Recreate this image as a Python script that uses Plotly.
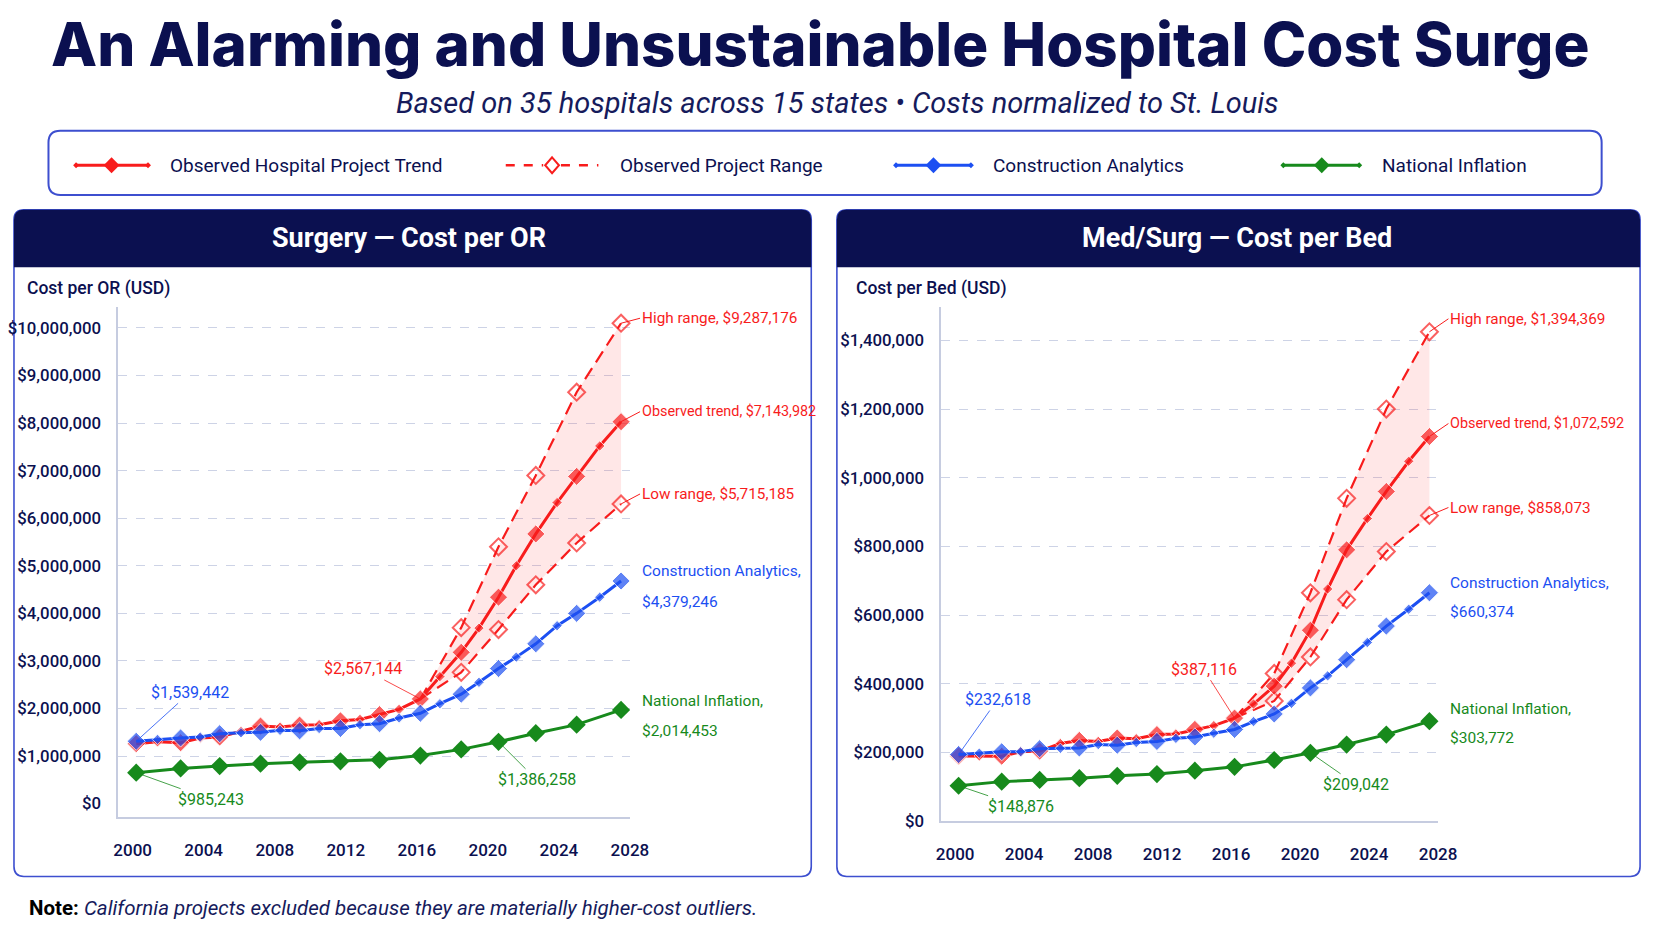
"""Hospital cost surge: cost per OR and cost per bed, observed vs. benchmarks."""
import plotly.graph_objects as go

W, H = 1672, 941          # target picture size
PAD_X, PAD_Y = 11, 8      # page body margin around the figure
FIG_W, FIG_H = W - 16, H - 16

# x positions (years); even indices carry the large markers
YEARS = [2000.2, 2001.4, 2002.7, 2003.8, 2004.9, 2006.1, 2007.2, 2008.3, 2009.4, 2010.5,
         2011.7, 2012.8, 2013.9, 2015.0, 2016.2, 2017.3, 2018.5, 2019.5, 2020.6, 2021.6,
         2022.7, 2023.9, 2025.0, 2026.3, 2027.5]
MAIN_YEARS = [2000.2, 2002.7, 2004.9, 2007.2, 2009.4, 2011.7, 2013.9, 2016.2, 2018.5,
              2020.6, 2022.7, 2025.0, 2027.5]
RANGE_YEARS = [2016.2, 2018.5, 2020.6, 2022.7, 2025.0, 2027.5]
YEAR_TICKS = [2000, 2004, 2008, 2012, 2016, 2020, 2024, 2028]

# Surgery - cost per OR (USD)
OR_TREND = [1260000, 1300000, 1280000, 1380000, 1400000, 1520000, 1630000, 1610000,
            1650000, 1660000, 1740000, 1770000, 1870000, 1980000, 2200000, 2670000,
            3180000, 3690000, 4340000, 5000000, 5670000, 6330000, 6880000, 7520000, 8030000]
OR_ANALYTICS = [1310000, 1350000, 1380000, 1400000, 1470000, 1490000, 1500000, 1540000,
                1530000, 1580000, 1580000, 1660000, 1680000, 1800000, 1900000, 2100000,
                2300000, 2550000, 2840000, 3080000, 3360000, 3740000, 4000000, 4340000, 4680000]
OR_INFLATION = [650000, 740000, 790000, 840000, 870000, 890000, 920000, 1010000,
                1140000, 1300000, 1480000, 1660000, 1970000]
OR_HIGH = [2200000, 3700000, 5400000, 6900000, 8650000, 10100000]
OR_LOW = [2200000, 2760000, 3660000, 4600000, 5480000, 6300000]
OR_TICKS = [0, 1000000, 2000000, 3000000, 4000000, 5000000, 6000000, 7000000,
            8000000, 9000000, 10000000]
OR_END_LABELS = ["High range, $9,287,176", "Observed trend, $7,143,982", "Low range, $5,715,185"]
OR_SIDE_LABELS = ["Construction Analytics,", "$4,379,246", "National Inflation,", "$2,014,453"]
OR_POINT_LABELS = ["$1,539,442", "$985,243", "$2,567,144", "$1,386,258"]

# Med/Surg - cost per bed (USD)
BED_TREND = [190000, 190000, 189000, 202000, 204000, 226000, 235000, 232000, 242000,
             240000, 252000, 254000, 267000, 278000, 300000, 341000, 393000, 460000,
             556000, 676000, 790000, 881000, 960000, 1048000, 1120000]
BED_ANALYTICS = [194000, 198000, 202000, 202000, 211000, 212000, 213000, 223000, 221000,
                 229000, 232000, 241000, 245000, 256000, 267000, 290000, 312000, 343000,
                 388000, 423000, 470000, 520000, 568000, 617000, 665000]
BED_INFLATION = [103000, 115000, 120000, 125000, 132000, 137000, 147000, 158000,
                 178000, 199000, 223000, 252000, 291000]
BED_HIGH = [300000, 430000, 665000, 940000, 1200000, 1425000]
BED_LOW = [300000, 350000, 478000, 645000, 785000, 890000]
BED_TICKS = [0, 200000, 400000, 600000, 800000, 1000000, 1200000, 1400000]
BED_END_LABELS = ["High range, $1,394,369", "Observed trend, $1,072,592", "Low range, $858,073"]
BED_SIDE_LABELS = ["Construction Analytics,", "$660,374", "National Inflation,", "$303,772"]
BED_POINT_LABELS = ["$232,618", "$148,876", "$387,116", "$209,042"]

LEGEND_NAMES = ["Observed Hospital Project Trend", "Observed Project Range",
                "Construction Analytics", "National Inflation"]

NAVY = "#0b1050"
RED = "#f81c1c"
BLUE = "#1c4ff2"
GREEN = "#178a1c"
FILL = "rgba(255, 70, 70, 0.13)"
GRID = "#cdd3e6"
AXIS = "#c6cce0"
BORDER = "#3d4fcf"
SANS = "Roboto, 'Noto Sans', sans-serif"


def px(x):
    return (x - PAD_X) / FIG_W


def py(y):
    return 1 - (y - PAD_Y) / FIG_H


def pt(x, y):
    return f"{px(x):.5f},{py(y):.5f}"


def rounded_path(x0, y0, x1, y1, r, round_bottom=True):
    """Rounded rectangle path in paper coords (input in pixels, y down)."""
    p = f"M {pt(x0 + r, y0)} L {pt(x1 - r, y0)} Q {pt(x1, y0)} {pt(x1, y0 + r)} "
    if round_bottom:
        p += (f"L {pt(x1, y1 - r)} Q {pt(x1, y1)} {pt(x1 - r, y1)} "
              f"L {pt(x0 + r, y1)} Q {pt(x0, y1)} {pt(x0, y1 - r)} ")
    else:
        p += f"L {pt(x1, y1)} L {pt(x0, y1)} "
    p += f"L {pt(x0, y0 + r)} Q {pt(x0, y0)} {pt(x0 + r, y0)} Z"
    return p


def diamond_path(cx, cy, rx, ry):
    return (f"M {pt(cx, cy - ry)} L {pt(cx + rx, cy)} L {pt(cx, cy + ry)} "
            f"L {pt(cx - rx, cy)} Z")


def text(x, y, s, size, color=NAVY, anchor="left", family=SANS, weight=None):
    font = dict(family=family, size=size, color=color)
    if weight:
        font["weight"] = weight
    return dict(x=px(x), y=py(y), xref="paper", yref="paper", text=s, showarrow=False,
                xanchor=anchor, yanchor="middle", font=font)


def add_panel(fig, n, trend, analytics, inflation, high, low, end_labels, side_labels,
              point_labels, layout):
    xa, ya = ("x", "y") if n == 1 else ("x2", "y2")
    small = [14 if i % 2 == 0 else 8 for i in range(len(YEARS))]
    common = dict(xaxis=xa, yaxis=ya, cliponaxis=False, hoverinfo="x+y", showlegend=False)
    range_marker = dict(symbol="diamond-open", size=[0, 13, 13, 13, 13, 13], color=RED,
                        line=dict(width=2, color=RED))

    # range band: low first, high fills down to it
    fig.add_trace(go.Scatter(
        x=RANGE_YEARS, y=low, mode="lines+markers",
        line=dict(color=RED, width=2.2, dash="13px,7px"), marker=range_marker, **common))
    fig.add_trace(go.Scatter(
        x=RANGE_YEARS, y=high, mode="lines+markers", fill="tonexty", fillcolor=FILL,
        line=dict(color=RED, width=2.2, dash="13px,7px"), marker=range_marker, **common))
    fig.add_trace(go.Scatter(
        x=MAIN_YEARS, y=inflation, mode="lines+markers",
        line=dict(color=GREEN, width=3), marker=dict(symbol="diamond", size=14, color=GREEN),
        **common))
    fig.add_trace(go.Scatter(
        x=YEARS, y=trend, mode="lines+markers",
        line=dict(color=RED, width=3), marker=dict(symbol="diamond", size=small, color=RED),
        **common))
    fig.add_trace(go.Scatter(
        x=YEARS, y=analytics, mode="lines+markers",
        line=dict(color=BLUE, width=3), marker=dict(symbol="diamond", size=small, color=BLUE),
        **common))

    anns = []
    # labels at the right end of the curves (the trend label is set a touch tighter)
    for val, label, ay, size in zip([high[-1], trend[-1], low[-1]], end_labels,
                                    layout["end_ay"], [15.3, 14.4, 15.3]):
        anns.append(dict(x=RANGE_YEARS[-1], y=val, xref=xa, yref=ya, text=label,
                         showarrow=True, arrowhead=0, arrowwidth=1, arrowcolor=RED,
                         ax=19, ay=ay, xanchor="left",
                         font=dict(family=SANS, size=size, color=RED)))
    for val, pair, shifts, color in [(analytics[-1], side_labels[:2], layout["ca_shift"], BLUE),
                                     (inflation[-1], side_labels[2:], layout["ni_shift"], GREEN)]:
        for label, dy in zip(pair, shifts):
            anns.append(dict(x=YEARS[-1], y=val, xref=xa, yref=ya, text=label,
                             showarrow=False, xanchor="left", yanchor="middle",
                             xshift=19, yshift=-dy,
                             font=dict(family=SANS, size=15.5, color=color)))
    # callouts on individual points
    points = [(YEARS[0], analytics[0], BLUE), (MAIN_YEARS[0], inflation[0], GREEN),
              (YEARS[14], trend[14], RED), (MAIN_YEARS[9], inflation[9], GREEN)]
    for (x, y, color), label, (ax, ay) in zip(points, point_labels, layout["callouts"]):
        anns.append(dict(x=x, y=y, xref=xa, yref=ya, text=label, showarrow=True,
                         arrowhead=0, arrowwidth=0.8, arrowcolor=color, ax=ax, ay=ay,
                         font=dict(family=SANS, size=16, color=color)))
    return anns


fig = go.Figure()

annotations = []
annotations += add_panel(fig, 1, OR_TREND, OR_ANALYTICS, OR_INFLATION, OR_HIGH, OR_LOW,
                         OR_END_LABELS, OR_SIDE_LABELS, OR_POINT_LABELS,
                         dict(end_ay=[-5, -10, -10], ca_shift=[-10, 21], ni_shift=[-9, 21],
                              callouts=[(54, -49), (75, 27), (-57, -30), (38, 38)]))
annotations += add_panel(fig, 2, BED_TREND, BED_ANALYTICS, BED_INFLATION, BED_HIGH, BED_LOW,
                         BED_END_LABELS, BED_SIDE_LABELS, BED_POINT_LABELS,
                         dict(end_ay=[-13, -13, -8], ca_shift=[-10, 19], ni_shift=[-12, 17],
                              callouts=[(39, -55), (62, 21), (-31, -49), (46, 32)]))

# page texts
annotations.append(text(830, 44, "An Alarming and Unsustainable Hospital Cost Surge", 60,
                        anchor="center", family="Inter, Lato, sans-serif", weight=800))
annotations.append(text(848, 104, "<i>Based on 35 hospitals across 15 states \u2022 "
                                  "Costs normalized to St. Louis</i>", 29, color="#161b5c",
                        anchor="center"))
annotations.append(text(25, 918, "<b>Note:</b> <span style='color:#161b5c'><i>California "
                                 "projects excluded because they are materially higher-cost "
                                 "outliers.</i></span>", 20.5, color="#000000"))
annotations.append(text(413, 241, "<b>Surgery \u2014 Cost per OR</b>", 27, color="white",
                        anchor="center"))
annotations.append(text(1253, 241, "<b>Med/Surg \u2014 Cost per Bed</b>", 27, color="white",
                        anchor="center"))
annotations.append(text(23, 292, "Cost per OR (USD)", 17.5, weight=500))
annotations.append(text(864, 292, "Cost per Bed (USD)", 17.5, weight=500))

# legend texts
legend_text_x = [168, 625, 1003, 1398]
for x, name in zip(legend_text_x, LEGEND_NAMES):
    annotations.append(text(x, 167, name, 19))

shapes = []
# legend frame and keys
shapes.append(dict(type="path", path=rounded_path(47, 132, 1623, 197, 12), xref="paper",
                   yref="paper", line=dict(color=BORDER, width=2), fillcolor="white",
                   layer="below"))
for x0, x1, cx, color, opened in [(75, 148, 111, RED, False),
                                   (511, 605, 558, RED, True),
                                   (907, 983, 945, BLUE, False),
                                   (1300, 1377, 1339, GREEN, False)]:
    if opened:
        for a, b in [(x0, cx - 9), (cx + 9, x1)]:
            shapes.append(dict(type="line", xref="paper", yref="paper", x0=px(a), x1=px(b),
                               y0=py(167), y1=py(167),
                               line=dict(color=color, width=2.5, dash="dash")))
        shapes.append(dict(type="path", path=diamond_path(cx, 167, 7, 8), xref="paper",
                           yref="paper", line=dict(color=color, width=2), fillcolor="white"))
    else:
        shapes.append(dict(type="line", xref="paper", yref="paper", x0=px(x0), x1=px(x1),
                           y0=py(167), y1=py(167), line=dict(color=color, width=3)))
        for ex in (x0, x1):
            shapes.append(dict(type="path", path=diamond_path(ex, 167, 3, 3), xref="paper",
                               yref="paper", line=dict(width=0), fillcolor=color))
        shapes.append(dict(type="path", path=diamond_path(cx, 167, 8, 8), xref="paper",
                           yref="paper", line=dict(width=0), fillcolor=color))

# panels: outline plus navy header band
for x0, x1 in [(12, 821), (847, 1662)]:
    shapes.append(dict(type="path", path=rounded_path(x0, 212, x1, 886, 10), xref="paper",
                       yref="paper", line=dict(color=BORDER, width=1.6), fillcolor="white",
                       layer="below"))
    shapes.append(dict(type="path", path=rounded_path(x0, 212, x1, 270, 10, round_bottom=False),
                       xref="paper", yref="paper", line=dict(width=0), fillcolor=NAVY,
                       layer="below"))

xaxis_style = dict(
    range=[1999.2, 2028.0], tickvals=YEAR_TICKS, ticktext=[str(t) for t in YEAR_TICKS],
    showgrid=False, zeroline=False, showline=True, linecolor=AXIS, linewidth=2,
    ticks="", ticklabelstandoff=16,
    tickfont=dict(family=SANS, size=17, color=NAVY, weight=500), fixedrange=True)
yaxis_style = dict(
    showgrid=False, zeroline=False, showline=True, linecolor=AXIS, linewidth=2, ticks="",
    ticklabelstandoff=12, tickfont=dict(family=SANS, size=16.8, color=NAVY, weight=500),
    fixedrange=True)

fig.update_layout(
    width=FIG_W, height=FIG_H,
    margin=dict(l=0, r=0, t=0, b=0),
    paper_bgcolor="white", plot_bgcolor="rgba(0,0,0,0)",
    xaxis=dict(domain=[px(118), px(637)], anchor="y", **xaxis_style),
    yaxis=dict(domain=[py(826), py(310)], anchor="x", range=[-285000, 10447000],
               tickvals=OR_TICKS, ticktext=[f"${v:,}" for v in OR_TICKS],
               minor=dict(tickvals=OR_TICKS[1:], showgrid=True, gridcolor=GRID,
                          griddash="dash", gridwidth=1, ticks=""),
               **yaxis_style),
    xaxis2=dict(domain=[px(953), px(1457)], anchor="y2", **xaxis_style),
    yaxis2=dict(domain=[py(830), py(310)], anchor="x2", range=[0, 1498000],
                tickvals=BED_TICKS, ticktext=[f"${v:,}" for v in BED_TICKS],
                minor=dict(tickvals=BED_TICKS[1:], showgrid=True, gridcolor=GRID,
                           griddash="dash", gridwidth=1, ticks=""),
                **yaxis_style),
    annotations=annotations,
    shapes=shapes,
)

fig.write_html("out.html")
